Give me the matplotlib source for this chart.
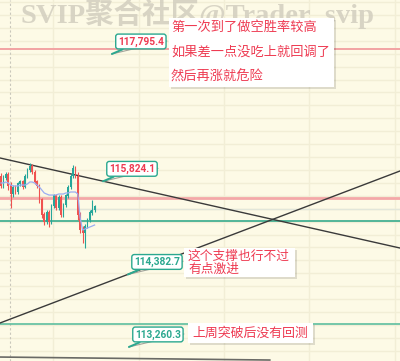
import matplotlib
matplotlib.use("Agg")
import matplotlib.pyplot as plt
import matplotlib.patheffects as pe
from matplotlib.patches import FancyBboxPatch
import numpy as np

# ---------------- data ----------------
opens  = [115906,115752,115876,115937,115752,115628,115736,115659,115783,115814,
          115736,115906,115999,116061,115968,115814,115752,115535,115303,115194,
          115349,115194,115442,115597,115411,115581,115303,115458,115597,115736,
          115906,116030,115906,115303,115071,115024,115132,115225,115334,115380]
highs  = [115953,115922,115968,115968,115814,115767,115767,115814,115845,115845,
          115937,116030,116108,116092,115999,115845,115783,115566,115349,115380,
          115380,115473,115628,115628,115612,115612,115489,115628,115767,115937,
          116077,116061,115968,115349,115132,115163,115256,115380,115535,115458]
lows   = [115721,115721,115845,115690,115411,115581,115628,115628,115752,115705,
          115721,115876,115968,115937,115783,115721,115489,115256,115148,115163,
          115117,115163,115411,115380,115380,115272,115272,115427,115566,115705,
          115876,115876,115225,115024,114869,114792,115102,115194,115303,115349]
closes = [115752,115876,115937,115752,115628,115736,115659,115783,115814,115736,
          115906,115999,116061,115968,115814,115752,115535,115303,115194,115349,
          115194,115442,115597,115411,115581,115303,115458,115597,115736,115906,
          116030,115906,115303,115071,115024,115132,115225,115334,115380,115427]
avg_line = [115799,115799,115814,115799,115767,115752,115752,115752,115767,115767,
            115767,115783,115814,115814,115799,115767,115736,115690,115644,115628,
            115612,115612,115612,115612,115628,115628,115628,115644,115644,115659,
            115659,115659,115628,115256,115071,115086,115102,115117,115132,115148]

# trend lines: two points each (bar index, price)
trend_down = [(0, 116182), (160, 114844)]
trend_up   = [(0, 113637), (160, 115896)]
trend_low  = [(-2, 113105), (112, 113058)]

# horizontal levels
level_red    = 117880
level_pink   = 115566
level_gray   = 115396
level_green  = 115210
level_green2 = 113616

# price labels: (bar index, price, text, colour key)
price_labels = [
    (46.2, 117795.4, "117,795.4", "red"),
    (42.5, 115824.1, "115,824.1", "red"),
    (52.9, 114382.7, "114,382.7", "teal"),
    (53.3, 113260.3, "113,260.3", "teal"),
]

note1 = ["第一次到了做空胜率较高", "如果差一点没吃上就回调了", "然后再涨就危险"]
note2 = ["这个支撑也行不过", "有点激进"]
note3 = ["上周突破后没有回测"]
watermark = "SVIP聚合社区@Trader_svip"

# ---------------- style ----------------
W, H = 400, 361
BG = "#FDFAE6"
GRID = "#F2EED6"
UP = "#26A69A"
DN = "#EF5350"
TXT_RED = "#EE3B52"
TEAL = "#2BA88F"

fig = plt.figure(figsize=(W / 100, H / 100), dpi=100)
fig.patch.set_facecolor(BG)
ax = fig.add_axes([0, 0, 1, 1])
ax.set_facecolor(BG)

xmin, xmax = -0.417, 166.25
ymin, ymax = 113043, 118631
ax.set_xlim(xmin, xmax)
ax.set_ylim(ymin, ymax)

for s in ax.spines.values():
    s.set_visible(False)
ax.set_xticks([21.7, 57.3, 92.9, 128.5, 164.1])
ax.set_yticks(np.arange(113200, 118700, 200))
ax.tick_params(length=0, labelbottom=False, labelleft=False)
ax.grid(True, color=GRID, lw=1.0)
ax.set_axisbelow(True)

def px(x, y):
    return (x / W, 1 - y / H)

# dotted vertical line
ax.axvline(3.75, color="#C9C7BB", lw=0.8, ls=(0, (2, 2)), zorder=1)

# horizontal levels
ax.axhline(level_red, color="#F2A3A3", lw=1.4, zorder=2)
ax.axhline(level_pink, color="#F4A8A8", lw=2.0, zorder=2)
ax.axhline(level_gray, color="#E2E6DA", lw=1.0, zorder=2)
ax.axhline(level_green, color="#45B092", lw=1.3, zorder=2)
ax.axhline(level_green2, color="#5DBE9F", lw=1.2, zorder=2)

# trend lines
ax.axline(trend_down[0], trend_down[1], color="#3A3A3A", lw=1.0, zorder=3)
ax.axline(trend_up[0], trend_up[1], color="#3A3A3A", lw=1.0, zorder=3)
ax.plot([p[0] for p in trend_low], [p[1] for p in trend_low], color="#6A6A66", lw=1.2, zorder=3)

# candles
idx = np.arange(len(opens))
o = np.array(opens); c = np.array(closes); hi = np.array(highs); lo = np.array(lows)
cols = np.where(c >= o, UP, DN)
ax.vlines(idx, lo, hi, colors=cols, lw=0.8, zorder=4)
ax.bar(idx, np.abs(c - o) + 8, bottom=np.minimum(o, c), width=0.72, color=cols, zorder=5, lw=0)

# average line
ax.plot(idx, avg_line, color="#9AAEF2", lw=0.9, zorder=6)

# price labels
for (bx, pr, txt, ck) in price_labels:
    tc = TXT_RED if ck == "red" else TEAL
    ax.annotate("", xy=(bx, pr), xytext=(55, 13), textcoords="offset pixels",
                arrowprops=dict(arrowstyle="-", color="#A3A39A", lw=0.8, shrinkA=0, shrinkB=0),
                zorder=7)
    ax.annotate(txt, xy=(bx, pr), xytext=(29, 12.5), textcoords="offset pixels",
                ha="center", va="center", fontsize=7.3, family="Roboto", weight="bold", color=tc,
                bbox=dict(boxstyle="round,pad=0.22,rounding_size=0.25", fc="white", ec=TEAL, lw=1.0),
                arrowprops=dict(arrowstyle="-", color=TEAL, lw=1.4, shrinkA=0, shrinkB=0),
                zorder=8)

# watermark (drawn beneath the note boxes)
fig.text(*px(197, 14), watermark, ha="center", va="center", fontsize=20.5,
         family=["Liberation Serif", "Noto Sans CJK SC"], weight="bold",
         color="#D2CEBF", alpha=0.85, zorder=8)

# note boxes
def note_box(left, top, width, height, lines, first_y, step, fs, tx):
    p0 = px(left, top + height)
    box = FancyBboxPatch(p0, width / W, height / H, boxstyle="square,pad=0",
                         transform=fig.transFigure, fc="white", ec="none", zorder=9)
    box.set_path_effects([pe.withSimplePatchShadow(offset=(1.2, -1.2), shadow_rgbFace="black", alpha=0.12),
                          pe.Normal()])
    fig.add_artist(box)
    for k, ln in enumerate(lines):
        fig.text(*px(tx, first_y + k * step), ln, ha="left", va="center", fontsize=fs,
                 family=["Noto Sans CJK SC", "DejaVu Sans"], color=TXT_RED, zorder=10)

note_box(169, 18, 165, 69, note1, 27, 25, 9.5, 171)
note_box(184, 248, 111, 29, note2, 256.5, 12.5, 9.2, 188)
note_box(188, 323, 125, 20, note3, 333, 0, 9.3, 192)

fig.savefig("out.png", dpi=100, facecolor=BG)
